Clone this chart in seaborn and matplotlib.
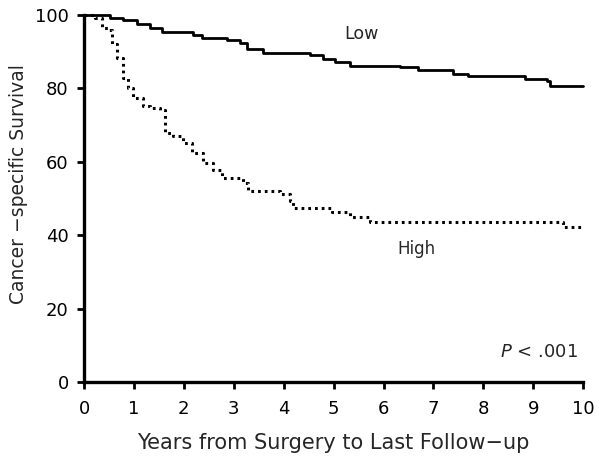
import pandas as pd
import numpy as np
import matplotlib
matplotlib.use("Agg")
import matplotlib.pyplot as plt
import seaborn as sns

### Step points (years, % survival after the step)
low_years = [0, 0.52, 0.78, 1.06, 1.32, 1.56, 2.19, 2.36, 2.86, 3.13, 3.27, 3.59,
             4.53, 4.79, 5.03, 5.33, 6.33, 6.69, 7.39, 7.70, 8.84, 9.28, 9.34, 10.0]
low_surv = [100, 99.2, 98.5, 97.4, 96.3, 95.4, 94.4, 93.8, 93.2, 92.4, 90.8, 89.7,
            89.0, 87.9, 87.2, 86.1, 85.7, 84.9, 83.9, 83.2, 82.4, 81.9, 80.6, 80.6]

high_years = [0, 0.22, 0.36, 0.50, 0.56, 0.66, 0.78, 0.88, 0.98, 1.18, 1.32, 1.52,
              1.62, 1.78, 1.98, 2.16, 2.38, 2.58, 2.76, 3.19, 3.29, 3.93, 4.13, 4.19,
              4.97, 5.33, 5.73, 9.60, 10.0]
high_surv = [100, 99.0, 96.5, 96.0, 92.0, 88.3, 82.8, 80.0, 77.3, 75.1, 74.5, 74.2,
             67.8, 66.9, 65.1, 62.4, 59.6, 57.8, 55.6, 54.2, 51.9, 51.1, 49.2, 47.4,
             46.2, 44.9, 43.5, 42.3, 42.3]

x_ticks = list(range(0, 11))
y_ticks = [0, 20, 40, 60, 80, 100]

sns.set_style("ticks")
plt.rcParams['font.family'] = ['DejaVu Sans']

df_low = pd.DataFrame({'years': low_years, 'surv': low_surv})
df_high = pd.DataFrame({'years': high_years, 'surv': high_surv})

fig = plt.figure(figsize=(6, 4.63), dpi=100)
ax = fig.add_axes([0.14, 0.175, 0.832, 0.793])

sns.lineplot(data=df_low, x='years', y='surv', ax=ax, color='black', lw=2.0,
             drawstyle='steps-post', estimator=None, sort=False, clip_on=False)
sns.lineplot(data=df_high, x='years', y='surv', ax=ax, color='black', lw=2.2,
             linestyle=(0, (0.9, 1.3)), drawstyle='steps-post', estimator=None,
             sort=False, clip_on=False)

ax.set_xlim(0, 10)
ax.set_ylim(0, 100)
ax.set_xticks(x_ticks)
ax.set_yticks(y_ticks)
ax.tick_params(axis='both', direction='out', length=5, width=2, labelsize=13,
               colors='black')
ax.tick_params(axis='x', pad=8)
ax.tick_params(axis='y', pad=6)
for side in ['top', 'right']:
    ax.spines[side].set_visible(False)
for side in ['left', 'bottom']:
    ax.spines[side].set_linewidth(2.4)
    ax.spines[side].set_color('black')

ax.set_xlabel('Years from Surgery to Last Follow\u2212up', fontsize=15, labelpad=11)
ax.set_ylabel('Cancer \u2212specific Survival', fontsize=13.5)
ax.yaxis.set_label_coords(-0.112, 0.54)

ax.text(5.55, 94.8, 'Low', fontsize=12.5, ha='center', va='center')
ax.text(6.65, 36.3, 'High', fontsize=12, ha='center', va='center')
ax.text(9.9, 8.2, r'$\it{P}$ < .001', fontsize=13, ha='right', va='center')

plt.savefig('out.png', dpi=100)
plt.close()
